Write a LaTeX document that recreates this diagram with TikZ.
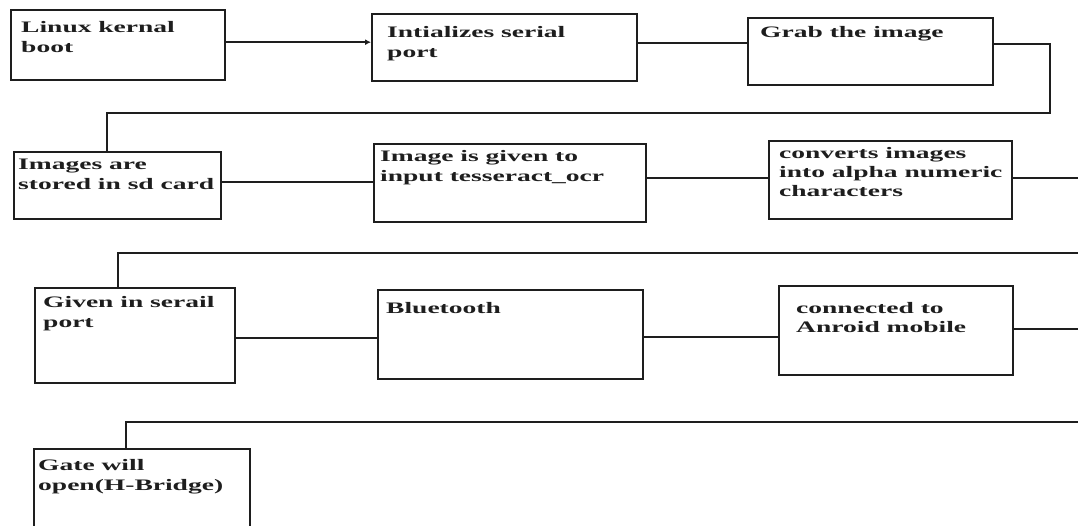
\documentclass[tikz,border=0pt]{standalone}
\usepackage{fontspec}
\newfontfamily\boxfont{Liberation Serif}[FakeStretch=1.72]
\usetikzlibrary{arrows.meta}
\definecolor{ink}{HTML}{1E1E1E}
\tikzset{
  box/.style={draw=ink, line width=2.4pt, anchor=north west, inner sep=0pt},
  conn/.style={draw=ink, line width=1.8pt},
  lbl/.style={anchor=base west, inner sep=0pt, align=left,
    text=ink, font=\boxfont\bfseries\fontsize{16}{20}\selectfont},
}
\begin{document}
\begin{tikzpicture}[x=1pt,y=-1pt]
\useasboundingbox (0,0) rectangle (1078,526);
\fill[white] (0,0) rectangle (1078,526);
\clip (0,0) rectangle (1078,526);
% boxes
\node[box, minimum width=214pt, minimum height=70pt] (b1) at (10,9) {};
\node[box, minimum width=265pt, minimum height=67pt] (b2) at (371,13) {};
\node[box, minimum width=245pt, minimum height=67pt] (b3) at (747,17) {};
\node[box, minimum width=207pt, minimum height=67pt] (b4) at (13,151) {};
\node[box, minimum width=272pt, minimum height=78pt] (b5) at (373,143) {};
\node[box, minimum width=243pt, minimum height=78pt] (b6) at (768,140) {};
\node[box, minimum width=200pt, minimum height=95pt] (b7) at (34,287) {};
\node[box, minimum width=265pt, minimum height=89pt] (b8) at (377,289) {};
\node[box, minimum width=234pt, minimum height=89pt] (b9) at (778,285) {};
\node[box, minimum width=216pt, minimum height=95pt] (b10) at (33,448) {};
% labels (anchored at the baseline of their last line)
\node[lbl] (t1) at ([xshift=11pt,yshift=-44pt]b1.north west) {Linux kernal\\boot};
\node[lbl] (t2) at ([xshift=16pt,yshift=-45pt]b2.north west) {Intializes serial\\port};
\node[lbl] (t3) at ([xshift=13pt,yshift=-21pt]b3.north west) {Grab the image};
\node[lbl] (t4) at ([xshift=5pt,yshift=-39pt]b4.north west) {Images are\\stored in sd card};
\node[lbl] (t5) at ([xshift=7pt,yshift=-39pt]b5.north west) {Image is given to\\input tesseract\_ocr};
\node[lbl, font=\boxfont\bfseries\fontsize{16}{19}\selectfont] (t6) at ([xshift=11pt,yshift=-57pt]b6.north west) {converts images\\into alpha numeric\\characters};
\node[lbl] (t7) at ([xshift=9pt,yshift=-40pt]b7.north west) {Given in serail\\port};
\node[lbl] (t8) at ([xshift=9pt,yshift=-24pt]b8.north west) {Bluetooth};
\node[lbl] (t9) at ([xshift=18pt,yshift=-48pt]b9.north west) {connected to\\Anroid mobile};
\node[lbl] (t10) at ([xshift=5pt,yshift=-42pt]b10.north west) {Gate will\\open(H-Bridge)};
% route points
\coordinate (r1a) at (1050,113);
\coordinate (r2a) at (1083,253);
\coordinate (r3a) at (1083,422);
% connectors
\draw[conn, -{Latex[length=6pt,width=6pt]}] ([yshift=3pt]b1.east) -- ([yshift=3pt]b1.east -| b2.west);
\draw[conn] ([yshift=4.5pt]b2.east) -- ([yshift=4.5pt]b2.east -| b3.west);
\draw[conn] ([yshift=7.5pt]b3.east) -| (r1a) -| ([xshift=94pt]b4.north west);
\draw[conn] ([yshift=3.5pt]b4.east) -- ([yshift=3.5pt]b4.east -| b5.west);
\draw[conn] ([yshift=5pt]b5.east) -- ([yshift=5pt]b5.east -| b6.west);
\draw[conn] ([yshift=2pt]b6.east) -| (r2a) -| ([xshift=84pt]b7.north west);
\draw[conn] ([yshift=-2.5pt]b7.east) -- ([yshift=-2.5pt]b7.east -| b8.west);
\draw[conn] ([yshift=-2.5pt]b8.east) -- ([yshift=-2.5pt]b8.east -| b9.west);
\draw[conn] ([yshift=1.5pt]b9.east) -| (r3a) -| ([xshift=93pt]b10.north west);
\end{tikzpicture}
\end{document}
